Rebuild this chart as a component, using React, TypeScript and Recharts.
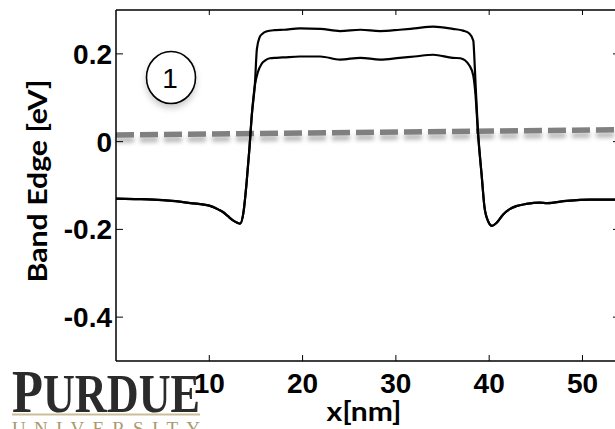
import React from 'react';
import { LineChart, Line, XAxis, YAxis } from 'recharts';

// band edge profile (x in nm, energy in eV)
const xUpper = [0, 2, 4, 6, 8, 10, 11, 11.5, 12, 12.5, 13, 13.3, 13.65, 14, 14.3, 14.55, 14.9, 15.1, 15.4, 15.7, 16.1, 17, 18, 19.7, 21.9, 24, 26.2, 28.3, 30.4, 32, 34, 36.1, 37.2, 37.9, 38.3, 38.4, 38.5, 38.8, 39.2, 39.5, 39.9, 40.3, 40.8, 41.5, 42.2, 42.9, 44, 45.4, 46.2, 48.3, 50.8, 53.7];
const eUpper = [-0.130, -0.131, -0.132, -0.135, -0.140, -0.146, -0.155, -0.161, -0.170, -0.179, -0.185, -0.187, -0.163, -0.093, -0.016, 0.059, 0.135, 0.211, 0.238, 0.246, 0.251, 0.254, 0.255, 0.258, 0.257, 0.252, 0.255, 0.252, 0.255, 0.258, 0.262, 0.257, 0.253, 0.246, 0.230, 0.196, 0.150, 0.021, -0.078, -0.150, -0.182, -0.192, -0.185, -0.166, -0.154, -0.147, -0.142, -0.139, -0.140, -0.135, -0.132, -0.132];

const xLower = [0, 2, 4, 6, 8, 10, 11, 11.5, 12, 12.5, 13, 13.3, 13.65, 14, 14.3, 14.55, 14.9, 15.2, 15.6, 16.0, 16.5, 17.2, 18, 19.7, 21.9, 24, 26.2, 28.3, 30.4, 32, 34, 36.1, 36.9, 37.9, 38.3, 38.5, 38.8, 39.2, 39.5, 39.9, 40.3, 40.8, 41.5, 42.2, 42.9, 44, 45.4, 46.2, 48.3, 50.8, 53.7];
const eLower = [-0.130, -0.131, -0.132, -0.135, -0.140, -0.146, -0.155, -0.161, -0.170, -0.179, -0.185, -0.187, -0.163, -0.093, -0.016, 0.059, 0.130, 0.158, 0.177, 0.185, 0.190, 0.191, 0.192, 0.194, 0.194, 0.187, 0.191, 0.187, 0.191, 0.194, 0.198, 0.191, 0.190, 0.173, 0.150, 0.115, 0.021, -0.078, -0.150, -0.182, -0.192, -0.185, -0.166, -0.154, -0.147, -0.142, -0.139, -0.140, -0.135, -0.132, -0.132];

// fermi level (dashed)
const fermiX = [0, 53.7];
const fermiE = [0.015, 0.027];

const xTicks = [10, 20, 30, 40, 50];
const yTicks = [-0.4, -0.2, 0, 0.2];

const upperData = xUpper.map((x, i) => ({ x, e: eUpper[i] }));
const lowerData = xLower.map((x, i) => ({ x, e: eLower[i] }));
const fermiData = fermiX.map((x, i) => ({ x, e: fermiE[i] }));

const tickFont = { fontFamily: '"Liberation Sans", Arial, sans-serif', fontWeight: 700, fontSize: 28 };

const BottomTick = (props: any) => {
    const { x, y, payload } = props;
    return (
        <g>
            <line x1={x} x2={x} y1={y} y2={y - 6} stroke="#000" strokeWidth={1} />
            <text x={x} y={y + 32} textAnchor="middle" fill="#000" style={tickFont}>{payload.value}</text>
        </g>
    );
};

const LeftTick = (props: any) => {
    const { x, y, payload } = props;
    return (
        <g>
            <line x1={x} x2={x + 7} y1={y} y2={y} stroke="#000" strokeWidth={1} />
            <text x={x - 4} y={y + 10} textAnchor="end" fill="#000" style={tickFont}>{String(payload.value)}</text>
        </g>
    );
};

const TopTick = (props: any) => {
    const { x, y } = props;
    return <line x1={x} x2={x} y1={y} y2={y + 5} stroke="#000" strokeWidth={1} />;
};

const RightTick = (props: any) => {
    const { x, y } = props;
    return <line x1={x} x2={x - 4} y1={y} y2={y} stroke="#000" strokeWidth={1} />;
};

export default function App() {
    const axisLine = { stroke: '#000', strokeWidth: 1.5 };
    return (
        <div style={{ position: 'absolute', left: 0, top: 0, width: 615, height: 429, overflow: 'hidden', background: '#fff' }}>
            <style>{`.fermi { filter: drop-shadow(0px 5px 2px rgba(0,0,0,0.28)); }`}</style>
            <LineChart width={620} height={429} margin={{ top: 9, right: 2, bottom: 0, left: 0 }}>
                <XAxis xAxisId="bottom" dataKey="x" type="number" domain={[0, 53.7]} allowDataOverflow ticks={xTicks} interval={0}
                    height={68} axisLine={axisLine} tickLine={false} tickSize={0} tickMargin={0} tick={<BottomTick />} />
                <XAxis xAxisId="top" orientation="top" dataKey="x" type="number" domain={[0, 53.7]} allowDataOverflow ticks={xTicks} interval={0}
                    height={1} axisLine={axisLine} tickLine={false} tickSize={0} tickMargin={0} tick={<TopTick />} />
                <YAxis yAxisId="left" type="number" domain={[-0.5, 0.3]} allowDataOverflow ticks={yTicks} interval={0}
                    width={116} axisLine={axisLine} tickLine={false} tickSize={0} tickMargin={0} tick={<LeftTick />} />
                <YAxis yAxisId="right" orientation="right" type="number" domain={[-0.5, 0.3]} allowDataOverflow ticks={yTicks} interval={0}
                    width={1} axisLine={axisLine} tickLine={false} tickSize={0} tickMargin={0} tick={<RightTick />} />
                <Line className="fermi" xAxisId="top" yAxisId="right" data={fermiData} dataKey="e" type="linear"
                    stroke="#808080" strokeWidth={5.5} strokeDasharray="18 6" dot={false} isAnimationActive={false} />
                <Line xAxisId="bottom" yAxisId="left" data={upperData} dataKey="e" type="monotone"
                    stroke="#000" strokeWidth={2.2} dot={false} isAnimationActive={false} />
                <Line xAxisId="bottom" yAxisId="left" data={lowerData} dataKey="e" type="monotone"
                    stroke="#000" strokeWidth={2.2} dot={false} isAnimationActive={false} />
            </LineChart>
            <svg width={615} height={429} style={{ position: 'absolute', left: 0, top: 0, pointerEvents: 'none' }}>
                <defs>
                    <filter id="circShadow" x="-50%" y="-50%" width="200%" height="200%">
                        <feDropShadow dx="0" dy="4" stdDeviation="3" floodColor="#000" floodOpacity="0.2" />
                    </filter>
                </defs>
                <text transform="translate(37,181) rotate(-90)" x={0} y={10} textAnchor="middle" textLength={203} lengthAdjust="spacingAndGlyphs"
                    style={{ fontFamily: 'Lato, "Open Sans", sans-serif', fontWeight: 700, fontSize: 27 }} fill="#000">Band Edge [eV]</text>
                <text x={364} y={421} textAnchor="middle" textLength={75} lengthAdjust="spacingAndGlyphs"
                    style={{ fontFamily: 'Lato, "Open Sans", sans-serif', fontWeight: 700, fontSize: 27 }} fill="#000">x[nm]</text>
                <ellipse cx={171} cy={77.5} rx={24.5} ry={26} fill="#fff" stroke="#000" strokeWidth={1.6} filter="url(#circShadow)" />
                <text x={170} y={88} textAnchor="middle" style={{ fontFamily: '"Liberation Sans", Arial, sans-serif', fontSize: 28 }} fill="#000">1</text>
                <text x={12} y={412} textLength={188} lengthAdjust="spacingAndGlyphs" fill="#2b2b2b"
                    style={{ fontFamily: '"Liberation Serif", "DejaVu Serif", serif', fontWeight: 700 }}>
                    <tspan fontSize={62}>P</tspan><tspan fontSize={54}>URDUE</tspan>
                </text>
                <line x1={12} x2={200} y1={414.5} y2={414.5} stroke="#cbbd98" strokeWidth={2} />
                <text x={12} y={435} textLength={188} lengthAdjust="spacing" fill="#a89a70"
                    style={{ fontFamily: '"Liberation Serif", "DejaVu Serif", serif', fontSize: 19 }}>UNIVERSITY</text>
            </svg>
        </div>
    );
}
